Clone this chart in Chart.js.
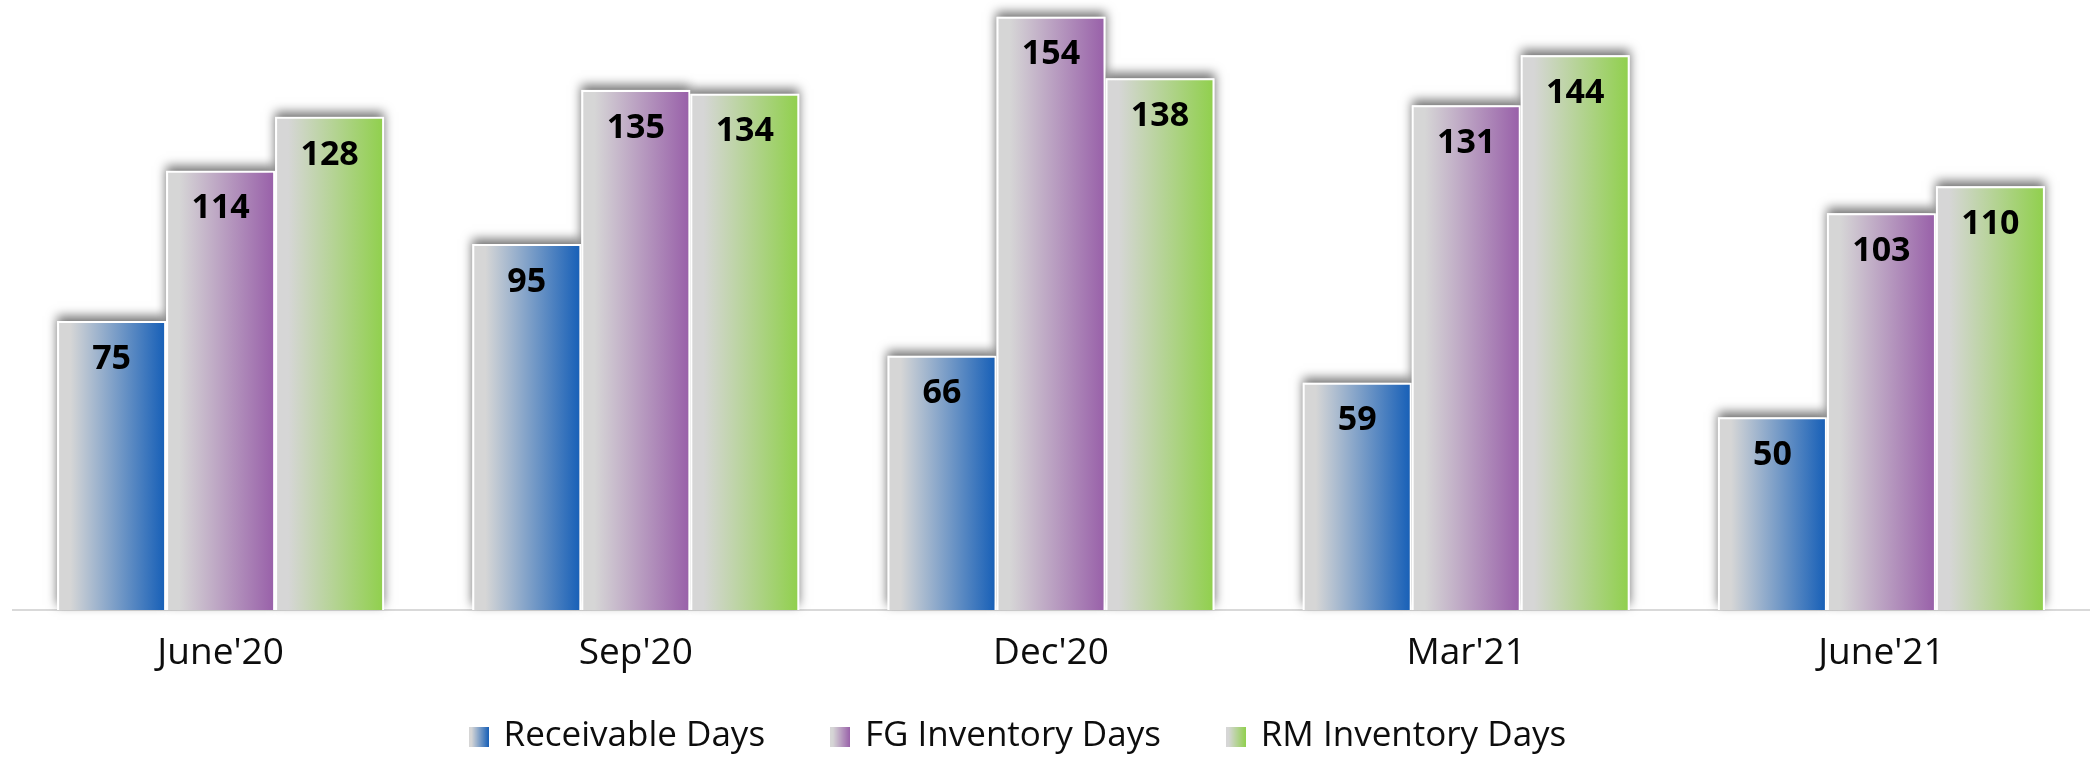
<!DOCTYPE html>
<html>
<head>
<meta charset="utf-8">
<script src="https://cdn.jsdelivr.net/npm/chart.js@4"></script>
<style>
    html, body { margin: 0; padding: 0; background: #fff; }
</style>
</head>
<body>
<canvas id="chart" width="2091" height="759"></canvas>
<script>
const categories = ["June'20", "Sep'20", "Dec'20", "Mar'21", "June'21"];
const receivableDays = [75, 95, 66, 59, 50];
const fgInventoryDays = [114, 135, 154, 131, 103];
const rmInventoryDays = [128, 134, 138, 144, 110];
const seriesNames = ['Receivable Days', 'FG Inventory Days', 'RM Inventory Days'];
const seriesColors = ['#1b62b8', '#9a63aa', '#92d050'];

const FONT = "'Open Sans', sans-serif";
const GREY = '#d6d6d6';

function fillGradient(ctx, left, width, color) {
    const g = ctx.createLinearGradient(left, 0, left + width, 0);
    g.addColorStop(0, GREY);
    g.addColorStop(0.12, GREY);
    g.addColorStop(0.97, color);
    g.addColorStop(1, color);
    return g;
}

// little gradient squares for the legend
const legendBoxes = seriesColors.map(color => {
    const c = document.createElement('canvas');
    c.width = 20;
    c.height = 20;
    const cx = c.getContext('2d');
    cx.fillStyle = fillGradient(cx, 0, 20, color);
    cx.fillRect(0, 0, 20, 20);
    return c;
});

const barStyle = {
    id: 'barStyle',
    beforeDatasetsDraw(chart) {
        const ctx = chart.ctx;
        chart.data.datasets.forEach((ds, i) => {
            chart.getDatasetMeta(i).data.forEach(bar => {
                const {x, y, base, width} = bar.getProps(['x', 'y', 'base', 'width'], true);
                const left = x - width / 2;
                bar.options = Object.assign({}, bar.options, {
                    backgroundColor: fillGradient(ctx, left, width, seriesColors[i])
                });

                ctx.save();
                ctx.shadowColor = 'rgba(0, 0, 0, 0.55)';
                ctx.shadowBlur = 10;
                ctx.shadowOffsetY = -5;
                ctx.fillStyle = '#fff';
                ctx.fillRect(left, y, width, base - y);
                ctx.restore();
            });
        });
    },
    afterDatasetsDraw(chart) {
        const ctx = chart.ctx;
        ctx.save();
        ctx.font = `bold 34px ${FONT}`;
        ctx.fillStyle = '#000';
        ctx.textAlign = 'center';
        ctx.textBaseline = 'middle';
        chart.data.datasets.forEach((ds, i) => {
            chart.getDatasetMeta(i).data.forEach((bar, j) => {
                ctx.fillText(ds.data[j], bar.x, bar.y + 38);
            });
        });
        ctx.restore();
    }
};

const seriesData = [receivableDays, fgInventoryDays, rmInventoryDays];

new Chart(document.querySelector('#chart'), {
    type: 'bar',
    data: {
        labels: categories,
        datasets: seriesNames.map((name, i) => ({
            label: name,
            data: seriesData[i],
            backgroundColor: seriesColors[i],
            borderColor: '#ffffff',
            borderWidth: 2,
            categoryPercentage: 0.7876,
            barPercentage: 1
        }))
    },
    options: {
        responsive: false,
        animation: false,
        layout: {
            padding: { top: 9, left: 13, right: 2, bottom: -5 }
        },
        scales: {
            x: {
                grid: { display: false, drawTicks: false },
                border: { display: true, color: '#d9d9d9', width: 2 },
                ticks: {
                    color: '#0d0d0d',
                    padding: 21,
                    font: { family: FONT, size: 37 }
                },
                afterFit: scale => { scale.height = 77; }
            },
            y: {
                display: false,
                min: 0,
                max: 156
            }
        },
        plugins: {
            tooltip: { enabled: false },
            legend: {
                position: 'bottom',
                labels: {
                    color: '#0d0d0d',
                    font: { family: FONT, size: 35 },
                    usePointStyle: true,
                    pointStyleWidth: 14,
                    padding: 32,
                    generateLabels: function (chart) {
                        const items = Chart.defaults.plugins.legend.labels.generateLabels(chart);
                        return items.map((item, i) => ({
                            ...item,
                            text: i < items.length - 1 ? item.text + '    ' : item.text + '       ',
                            pointStyle: legendBoxes[i]
                        }));
                    }
                }
            }
        }
    },
    plugins: [barStyle]
});
</script>
</body>
</html>
